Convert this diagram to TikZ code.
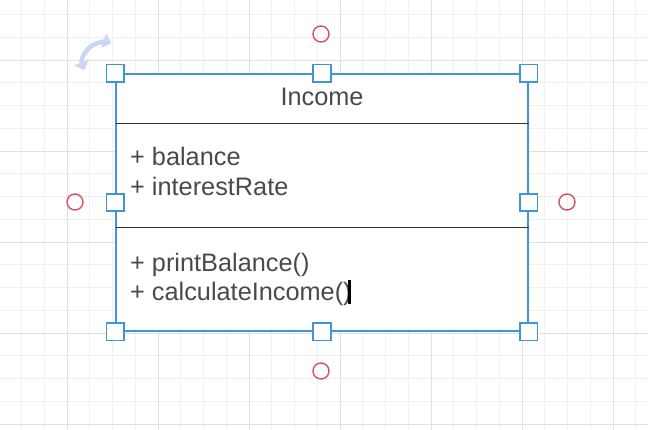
\documentclass[tikz,border=0pt]{standalone}
\usepackage{fontspec}
\setmainfont{Liberation Sans}
\definecolor{GridMinor}{RGB}{240, 240, 240}
\definecolor{GridMajor}{RGB}{224, 224, 224}
\definecolor{Selection}{RGB}{62, 150, 214}
\definecolor{Hint}{RGB}{212, 82, 96}
\definecolor{Rotate}{RGB}{200, 216, 244}
\definecolor{Testo}{RGB}{74, 74, 78}
\definecolor{Linea}{RGB}{51, 51, 51}
\usetikzlibrary{positioning, arrows.meta}
\tikzset{
    classe/.style = {draw=Selection, line width=1.6pt, fill=white, minimum width=412pt, minimum height=257pt, inner sep=0pt},
    voce/.style = {anchor=base west, inner sep=0pt, text=Testo, font=\fontsize{25.3}{30}\selectfont},
    maniglia/.style = {draw=Selection, line width=1.8pt, fill=white, minimum size=17.5pt, inner sep=0pt},
    aggancio/.style = {draw=Hint, line width=1.4pt, circle, minimum size=16pt, inner sep=0pt}
}

\begin{document}
\begin{tikzpicture}[
        x=1pt, y=-1pt,
        divisore/.style = {draw=Linea, line width=0.8pt},
        griglia/.style = {draw=GridMinor, line width=0.8pt},
        griglia forte/.style = {draw=GridMajor, line width=0.9pt}
    ]
    \useasboundingbox[fill=white] (0,0) rectangle (648,430);

    % grid
    \foreach \i in {0,...,28} {
        \draw[griglia] (21.5+22.75*\i-22.75,0) -- ++(0,430);
    }
    \foreach \i in {0,...,19} {
        \draw[griglia] (0,14.5+22.75*\i) -- ++(648,0);
    }
    \foreach \i in {0,...,7} {
        \draw[griglia forte] (67+91*\i-91,0) -- ++(0,430);
    }
    \foreach \i in {0,...,4} {
        \draw[griglia forte] (0,60+91*\i) -- ++(648,0);
    }

    % class box
    \node[classe] (income) at (322,202.5) {};
    \coordinate (sep1) at (116,123);
    \coordinate (sep2) at (116,227);
    \draw[divisore] (sep1) -- (sep1 -| income.east);
    \draw[divisore] (sep2) -- (sep2 -| income.east);

    \node[voce, anchor=base] (titolo) at (322,106) {Income};
    \node[voce] (balance) at (130,166) {+ balance};
    \node[voce] (rate) at (130,196) {+ interestRate};
    \node[voce] (print) at (130,272) {+ printBalance()};
    \node[voce] (calc) at (130,301) {+ calculateIncome()};

    % text cursor
    \coordinate (cursore) at ([xshift=-2pt]calc.base east);
    \fill[black] ([xshift=-1.6pt, yshift=-3pt]cursore) rectangle ([xshift=1.6pt, yshift=21pt]cursore);

    % handles
    \foreach \a in {north west, north, north east, east, south east, south, south west, west} {
        \node[maniglia] at (income.\a) {};
    }

    \node[aggancio] (hintN) at (321,34) {};
    \node[aggancio] (hintW) at (75,202) {};
    \node[aggancio] (hintE) at (567,202) {};
    \node[aggancio] (hintS) at (321,371) {};

    % rotation handle
    \coordinate (perno) at (104,63);
    \draw[Rotate, line width=4.5pt, arrows={Triangle[length=8pt, width=15pt]-Triangle[length=8pt, width=15pt]}]
        ([shift={(160:21)}]perno) arc (160:290:21);

\end{tikzpicture}
\end{document}
